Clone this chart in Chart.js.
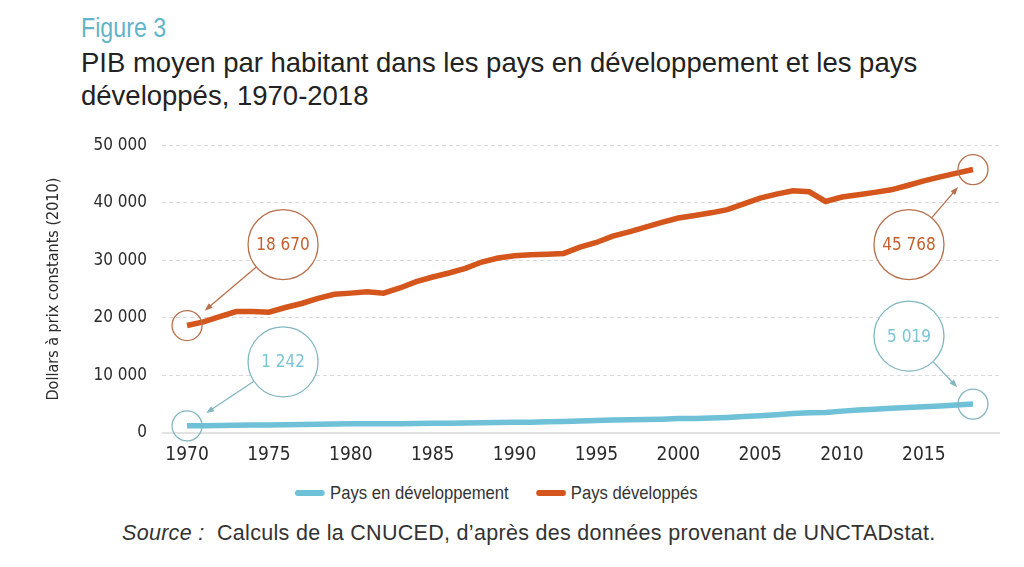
<!DOCTYPE html>
<html lang="fr">
<head>
<meta charset="utf-8">
<title>Figure 3</title>
<script src="https://cdn.jsdelivr.net/npm/chart.js@4.4.1/dist/chart.umd.min.js"></script>
<style>
  html, body { margin: 0; padding: 0; background: #fff; }
  body { width: 1024px; height: 567px; position: relative; overflow: hidden; font-family: "Liberation Sans", Arial, sans-serif; }
  #fig { position: absolute; left: 81px; top: 13px; font-size: 27px; line-height: 30px; color: #62b5c9; transform: scaleX(0.86); transform-origin: left center; }
  #title { position: absolute; left: 81px; top: 46px; font-size: 27.5px; line-height: 33px; color: #222; }
  #chartBox { position: absolute; left: 0; top: 120px; width: 1024px; height: 360px; }
  #legend { position: absolute; left: 295px; top: 481px; display: flex; align-items: center; font-size: 18.5px; color: #333; line-height: 24px; white-space: nowrap; transform: scaleX(0.9); transform-origin: left center; }
  #legend .item { display: flex; align-items: center; margin-right: 30px; }
  #legend .swatch { display: inline-block; width: 33px; height: 6px; border-radius: 3px; margin-right: 6px; }
  #source { position: absolute; left: 122px; top: 520px; font-size: 21.5px; line-height: 26px; letter-spacing: 0.3px; color: #333; white-space: nowrap; }
</style>
</head>
<body>
<div id="fig">Figure 3</div>
<div id="title">PIB moyen par habitant dans les pays en développement et les pays<br>développés, 1970-2018</div>
<div id="chartBox"><canvas id="pibChart"></canvas></div>
<div id="legend"></div>
<div id="source"><i>Source :</i>&nbsp; Calculs de la CNUCED, d’après des données provenant de UNCTADstat.</div>

<script>
// Années 1970-2018
const years = [
  1970, 1971, 1972, 1973, 1974, 1975, 1976, 1977, 1978, 1979,
  1980, 1981, 1982, 1983, 1984, 1985, 1986, 1987, 1988, 1989,
  1990, 1991, 1992, 1993, 1994, 1995, 1996, 1997, 1998, 1999,
  2000, 2001, 2002, 2003, 2004, 2005, 2006, 2007, 2008, 2009,
  2010, 2011, 2012, 2013, 2014, 2015, 2016, 2017, 2018
];

// Pays en développement (dollars constants 2010)
const developing = [
  1242, 1270, 1300, 1350, 1380, 1400, 1440, 1480, 1530, 1560,
  1590, 1600, 1610, 1620, 1650, 1680, 1710, 1750, 1800, 1830,
  1850, 1880, 1940, 2010, 2090, 2170, 2250, 2320, 2350, 2400,
  2500, 2540, 2600, 2700, 2850, 3000, 3180, 3380, 3520, 3570,
  3800, 3980, 4130, 4290, 4430, 4560, 4710, 4880, 5019
];

// Pays développés (dollars constants 2010)
const developed = [
  18670, 19300, 20200, 21100, 21100, 21000, 21800, 22500, 23400, 24100,
  24300, 24550, 24300, 25200, 26300, 27100, 27800, 28600, 29700, 30400,
  30800, 30950, 31050, 31200, 32300, 33100, 34200, 34950, 35750, 36600,
  37350, 37800, 38250, 38800, 39800, 40800, 41500, 42080, 41900, 40230,
  41000, 41400, 41800, 42250, 43000, 43800, 44500, 45150, 45768
];

const xTicks = [1970, 1975, 1980, 1985, 1990, 1995, 2000, 2005, 2010, 2015];
const yTicks = [0, 10000, 20000, 30000, 40000, 50000];

const seriesNames = ['Pays en développement', 'Pays développés'];
const blue = '#6ec1d7';
const orange = '#d4561c';

const NARROW = '"DejaVu Sans Condensed", "Liberation Sans Narrow", sans-serif';

const fmt = v => String(v).replace(/\B(?=(\d{3})+(?!\d))/g, ' ');

// Bulles : premier et dernier point de chaque série
const callouts = [
  { dataset: 1, index: 0, dx: 96, dy: -81, stroke: '#b8704c', text: '#c55f2c' },
  { dataset: 1, index: -1, dx: -64, dy: 75, stroke: '#b8704c', text: '#c55f2c' },
  { dataset: 0, index: 0, dx: 96, dy: -64, stroke: '#82b6c0', text: '#7cc4d4' },
  { dataset: 0, index: -1, dx: -64, dy: -68, stroke: '#82b6c0', text: '#7cc4d4' },
];

const calloutPlugin = {
  id: 'callouts',
  afterDatasetsDraw(chart) {
    const { ctx } = chart;
    callouts.forEach(c => {
      const meta = chart.getDatasetMeta(c.dataset);
      const i = c.index < 0 ? meta.data.length + c.index : c.index;
      const pt = meta.data[i];
      const value = chart.data.datasets[c.dataset].data[i].y;
      const bx = pt.x + c.dx;
      const by = pt.y + c.dy;
      const rSmall = 15, rBig = 35;

      ctx.save();
      ctx.strokeStyle = c.stroke;
      ctx.lineWidth = 1.3;

      ctx.beginPath();
      ctx.arc(pt.x, pt.y, rSmall, 0, Math.PI * 2);
      ctx.stroke();

      ctx.fillStyle = '#fff';
      ctx.beginPath();
      ctx.arc(bx, by, rBig, 0, Math.PI * 2);
      ctx.fill();
      ctx.stroke();

      // flèche
      const ang = Math.atan2(pt.y - by, pt.x - bx);
      const dist = Math.hypot(pt.x - bx, pt.y - by);
      const cos = Math.cos(ang), sin = Math.sin(ang);
      const sx = bx + cos * rBig;
      const sy = by + sin * rBig;
      const tip = dist - rSmall - 8;
      const ex = bx + cos * tip;
      const ey = by + sin * tip;
      ctx.beginPath();
      ctx.moveTo(sx, sy);
      ctx.lineTo(ex - cos * 5, ey - sin * 5);
      ctx.stroke();
      ctx.fillStyle = c.stroke;
      ctx.beginPath();
      ctx.moveTo(ex, ey);
      ctx.lineTo(ex - cos * 8 + sin * 3, ey - sin * 8 - cos * 3);
      ctx.lineTo(ex - cos * 8 - sin * 3, ey - sin * 8 + cos * 3);
      ctx.closePath();
      ctx.fill();

      ctx.fillStyle = c.text;
      ctx.font = '17px ' + NARROW;
      ctx.textAlign = 'center';
      ctx.textBaseline = 'middle';
      ctx.fillText(fmt(value), bx, by + 1);
      ctx.restore();
    });
  }
};

const toPoints = values => years.map((y, i) => ({ x: y, y: values[i] }));

new Chart(document.getElementById('pibChart'), {
  type: 'line',
  data: {
    datasets: [
      {
        label: seriesNames[0],
        data: toPoints(developing),
        borderColor: blue,
        backgroundColor: blue,
        borderWidth: 5.5,
        pointRadius: 0,
        tension: 0,
      },
      {
        label: seriesNames[1],
        data: toPoints(developed),
        borderColor: orange,
        backgroundColor: orange,
        borderWidth: 5.5,
        pointRadius: 0,
        tension: 0,
      }
    ]
  },
  options: {
    responsive: true,
    maintainAspectRatio: false,
    animation: false,
    layout: { padding: { left: 38, right: 24, top: 24, bottom: 0 } },
    plugins: {
      legend: { display: false },
      tooltip: { enabled: false },
    },
    scales: {
      x: {
        type: 'linear',
        min: 1968.47,
        max: 2019.65,
        afterBuildTicks: scale => { scale.ticks = xTicks.map(v => ({ value: v })); },
        afterFit: scale => { scale.height = 47; },
        grid: { display: false, drawTicks: false },
        border: { display: false },
        ticks: {
          padding: 11,
          color: '#2b2b2b',
          font: { family: NARROW, size: 19 },
          callback: v => String(v),
        },
      },
      y: {
        min: 0,
        max: 50000,
        afterBuildTicks: scale => { scale.ticks = yTicks.map(v => ({ value: v })); },
        afterFit: scale => { scale.width = 124; },
        grid: {
          drawTicks: false,
          color: ctx => (ctx.tick && ctx.tick.value === 0 ? '#e2e2e2' : '#dadada'),
          lineWidth: ctx => (ctx.tick && ctx.tick.value === 0 ? 2 : 1),
        },
        border: {
          display: false,
          dash: ctx => (ctx.tick && ctx.tick.value === 0 ? [] : [4, 3]),
        },
        ticks: {
          padding: 15,
          color: '#2b2b2b',
          font: { family: NARROW, size: 17 },
          callback: v => fmt(v),
        },
        title: {
          display: true,
          text: 'Dollars à prix constants (2010)',
          color: '#2b2b2b',
          font: { family: NARROW, size: 16 },
          padding: { top: 6, bottom: 0 },
        },
      },
    },
  },
  plugins: [calloutPlugin],
});

// Légende
const legend = document.getElementById('legend');
[blue, orange].forEach((col, i) => {
  const item = document.createElement('span');
  item.className = 'item';
  item.innerHTML = '<span class="swatch" style="background:' + col + '"></span>' + seriesNames[i];
  legend.appendChild(item);
});
</script>
</body>
</html>
